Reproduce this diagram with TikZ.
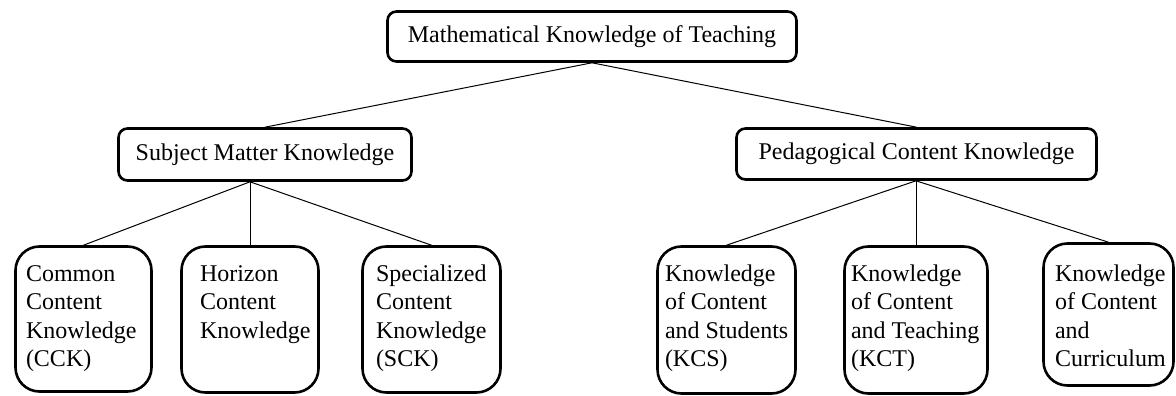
\documentclass[tikz,border=0pt]{standalone}
\usepackage{fontspec}
\setmainfont{Liberation Serif}
\newcommand{\leafin}[5]{\parbox[c][#2][t]{#1}{\raggedright\leftskip=#3\relax\vspace*{#4}\rule{0pt}{17pt}#5}}
\begin{document}
\begin{tikzpicture}[x=1pt,y=-1pt,
  txt/.style={font=\fontsize{24}{28.5}\selectfont},
  box/.style={txt, draw, line width=2.6pt, rounded corners=9pt, inner sep=0pt, align=center},
  leaf/.style={txt, draw, line width=2.6pt, rounded corners=24pt, inner sep=0pt},
  conn/.style={line width=1pt}]
\useasboundingbox (0,0) rectangle (1176,396);

\node[box, minimum width=409pt, minimum height=50pt] (top) at (592,36.5) {Mathematical Knowledge of Teaching};
\node[box, minimum width=293pt, minimum height=52pt] (smk) at (265,154.5) {Subject Matter Knowledge};
\node[box, minimum width=360pt, minimum height=51pt] (pck) at (916.5,154) {Pedagogical Content Knowledge};

\node[leaf] (cck) at (83.5,319) {\leafin{136pt}{145pt}{10.5pt}{17.5pt}{Common\\Content\\Knowledge\\(CCK)}};
\node[leaf] (hck) at (250,319.5) {\leafin{137pt}{146pt}{18.5pt}{17.5pt}{Horizon\\Content\\Knowledge}};
\node[leaf] (sck) at (431.5,319.5) {\leafin{138pt}{146pt}{13.5pt}{17.5pt}{Specialized\\Content\\Knowledge\\(SCK)}};
\node[leaf] (kcs) at (726.5,320) {\leafin{138pt}{147pt}{7.5pt}{17.5pt}{Knowledge\\of Content\\and Students\\(KCS)}};
\node[leaf] (kct) at (916,320) {\leafin{143pt}{147pt}{6.5pt}{17.5pt}{Knowledge\\of Content\\and Teaching\\(KCT)}};
\node[leaf] (kcc) at (1108.5,314.5) {\leafin{130pt}{142pt}{11.5pt}{20.5pt}{Knowledge\\of Content\\and\\Curriculum}};

\draw[conn] (top.south) -- (smk.north);
\draw[conn] (top.south) -- (pck.north);

\coordinate (smkb) at (smk.south -| hck.north);
\draw[conn] (smkb) -- (cck.north);
\draw[conn] (smkb) -- (hck.north);
\draw[conn] (smkb) -- (sck.north);

\coordinate (pckb) at (pck.south -| kct.north);
\draw[conn] (pckb) -- (kcs.north);
\draw[conn] (pckb) -- (kct.north);
\draw[conn] (pckb) -- (kcc.north);
\end{tikzpicture}
\end{document}
